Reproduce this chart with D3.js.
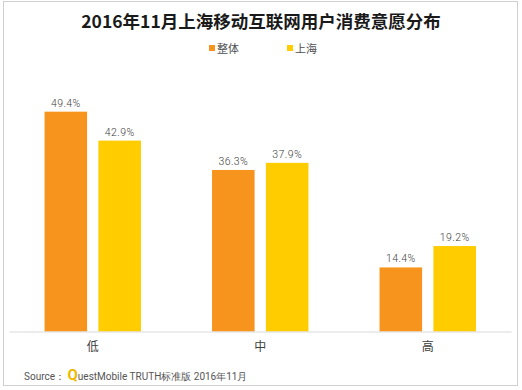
<!DOCTYPE html>
<html>
<head>
<meta charset="utf-8">
<script src="https://cdn.jsdelivr.net/npm/d3@7"></script>
<style>
  body { margin: 0; background: #fff; }
  svg { display: block; font-family: "Noto Sans CJK SC", "Noto Sans", sans-serif; }
</style>
</head>
<body>
<div id="canvas"></div>
<script>
const width = 522;
const height = 390;

// data
const categories = ['低', '中', '高'];
const seriesNames = ['整体', '上海'];
const overall = [49.4, 36.3, 14.4];
const shanghai = [42.9, 37.9, 19.2];
const colors = ['#F7941D', '#FFCC00'];

const series = [overall, shanghai];

const svg = d3.select('#canvas').append('svg')
  .attr('width', width)
  .attr('height', height);

// outer frame
svg.append('rect')
  .attr('x', 3.5).attr('y', 1.5)
  .attr('width', 514).attr('height', 384)
  .attr('fill', 'none')
  .attr('stroke', '#cfcfcf')
  .attr('stroke-width', 1);

// title
svg.append('text')
  .attr('x', 261).attr('y', 28)
  .attr('text-anchor', 'middle')
  .attr('font-size', 17.5)
  .attr('font-weight', 'bold')
  .attr('fill', '#1a1a1a')
  .text('2016年11月上海移动互联网用户消费意愿分布');

// legend
const legendX = [209, 287];
seriesNames.forEach((name, i) => {
  const g = svg.append('g').attr('transform', `translate(${legendX[i]},44)`);
  g.append('rect').attr('width', 6).attr('height', 6).attr('y', 1).attr('fill', colors[i]);
  g.append('text').attr('x', 8).attr('y', 8.5)
    .attr('font-size', 11).attr('fill', '#505050').text(name);
});

const baseline = 331.5;

const xScale = d3.scaleBand()
  .domain(categories)
  .range([9, 511.5])
  .paddingInner(0)
  .paddingOuter(0);

const inner = d3.scaleBand()
  .domain(seriesNames)
  .range([0, xScale.bandwidth()])
  .paddingInner(0.21)
  .paddingOuter(0.66);

const yScale = d3.scaleLinear()
  .domain([0, 60])
  .range([baseline, baseline - 60 * 4.45]);

const chartGroup = svg.append('g');

categories.forEach((cat, ci) => {
  seriesNames.forEach((name, si) => {
    const v = series[si][ci];
    const x = xScale(cat) + inner(name);
    chartGroup.append('rect')
      .attr('x', x)
      .attr('y', yScale(v))
      .attr('width', inner.bandwidth())
      .attr('height', baseline - yScale(v))
      .attr('fill', colors[si]);
    chartGroup.append('text')
      .attr('x', x + inner.bandwidth() / 2)
      .attr('y', yScale(v) - 5)
      .attr('text-anchor', 'middle')
      .attr('font-family', 'Roboto, sans-serif')
      .attr('font-weight', 300)
      .attr('font-size', 10.5)
      .attr('letter-spacing', 0.4)
      .attr('fill', '#404040')
      .text(v.toFixed(1) + '%');
  });
});

// x axis
const xAxis = d3.axisBottom(xScale).tickSize(0).tickPadding(11);
const axisG = svg.append('g')
  .attr('transform', `translate(0,${baseline})`)
  .call(xAxis);
axisG.select('.domain').attr('stroke', '#d9d9d9').attr('d', 'M9.5,0.5H511.5');
axisG.selectAll('text')
  .attr('font-family', '"Noto Sans CJK SC", sans-serif')
  .attr('font-size', 12)
  .attr('fill', '#404040');

// source
const src = svg.append('text')
  .attr('x', 24).attr('y', 380)
  .attr('font-family', 'Roboto, sans-serif')
  .attr('font-size', 10)
  .attr('fill', '#555');
src.append('tspan').text('Source： ');
src.append('tspan').attr('font-size', 15).attr('font-weight', 'bold').attr('fill', '#F0B800').text('Q');
src.append('tspan').text('uestMobile TRUTH标准版 2016年11月');
</script>
</body>
</html>
